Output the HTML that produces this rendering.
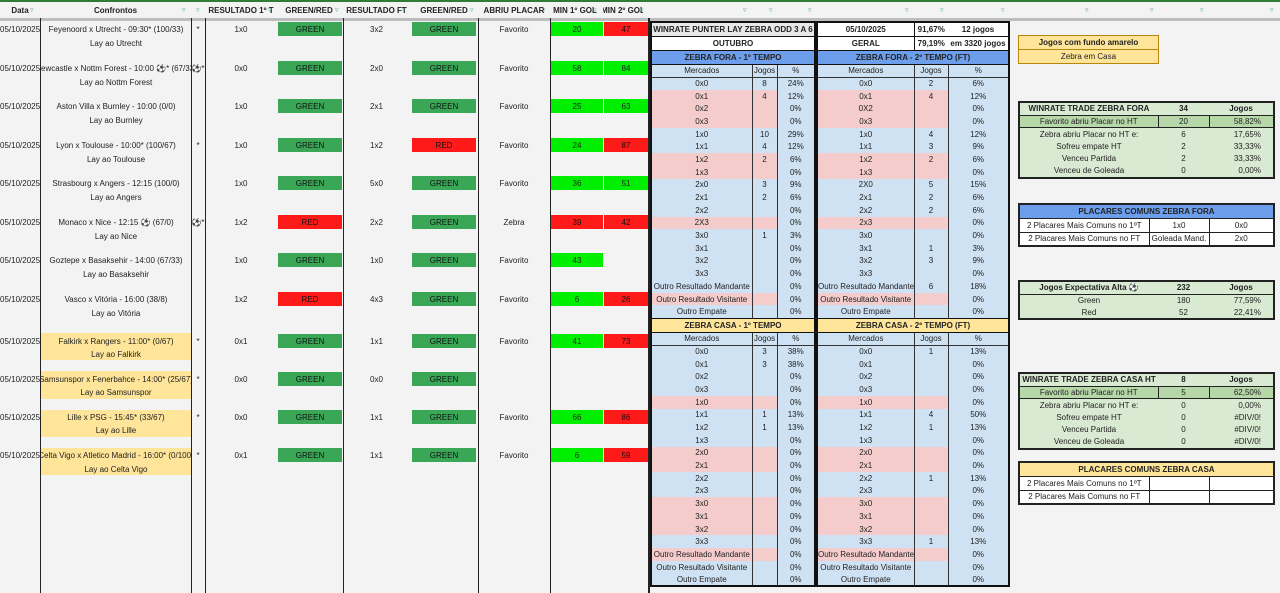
<!DOCTYPE html>
<html><head><meta charset="utf-8">
<style>
*{margin:0;padding:0;box-sizing:border-box}
body{width:1280px;height:593px;overflow:hidden;background:#f3f3f3;font:8px "Liberation Sans","DejaVu Sans",sans-serif;color:#222;position:relative}
.a{position:absolute}
.c{position:absolute;display:flex;justify-content:center;align-items:center;white-space:nowrap;overflow:hidden}
.v{position:absolute;top:18px;height:575px;width:1px;background:#222}
.g{background:#3aa757;color:#111}
.r{background:#ff1a1a;color:#111}
.lg{background:#00ee00}
.hd{position:absolute;top:3px;height:15px;font-weight:bold;display:flex;align-items:center;justify-content:center;white-space:nowrap;overflow:hidden;font-size:8px}
.f{position:absolute;top:6px;color:#5a9;font-size:7px}
.yb{background:#ffe599}
table{position:absolute;border-collapse:collapse;table-layout:fixed;font:8px "Liberation Sans",sans-serif;color:#222}
.t{border:2px solid #111}
.t td{padding:0;text-align:center;white-space:nowrap;overflow:hidden;background:#cfe2f3;border-left:1px solid #333;border-right:1px solid #333;line-height:11px}
.t tr{height:12.7px}
.t tr.p td:nth-child(-n+2){background:#f4cccc}
.t tr.h td{background:#6d9eeb;font-weight:bold;border:1px solid #111;height:14px}
.t tr.y td{background:#ffe599;font-weight:bold;border:1px solid #111;height:14px}
.t tr.m td{border-bottom:1px solid #333;height:13px}
.t tr.w td{background:#fff;font-weight:bold;border:1px solid #111;height:14px}
.t tr.w2 td{background:#e8e8e8}
.k{border:2px solid #222}
.k td{padding:0;text-align:center;white-space:nowrap;overflow:hidden;height:12.5px;line-height:11px;background:#d9ead3}
.k tr.hh td{font-weight:bold;border-bottom:1px solid #222;height:13px}
.k tr.dd td{background:#b6d7a8;border:1px solid #222}
.q{border:2px solid #222}
.q td{padding:0;text-align:center;white-space:nowrap;overflow:hidden;height:14px;background:#fff;border:1px solid #222}
.q tr.hh td{background:#6d9eeb;font-weight:bold}
.q tr.hy td{background:#ffe599;font-weight:bold}
</style></head><body>
<div class="a" style="left:0;top:0;width:1280px;height:2px;background:#2e7d32"></div>
<div class="a" style="left:0;top:2px;width:1280px;height:16px;background:#f3f3f3"></div>
<div class="a" style="left:0;top:18px;width:1280px;height:3px;background:#bdbdbd"></div>
<div class="hd" style="left:0;width:40px">Data</div><span class="f" style="left:30px">▿</span>
<div class="hd" style="left:40px;width:151px">Confrontos</div><span class="f" style="left:182px">▿</span>
<span class="f" style="left:196px">▿</span>
<div class="hd" style="left:205px;width:72px">RESULTADO 1º T</div><span class="f" style="left:268px">▿</span>
<div class="hd" style="left:275px;width:68px">GREEN/RED</div><span class="f" style="left:335px">▿</span>
<div class="hd" style="left:343px;width:67px">RESULTADO FT</div><span class="f" style="left:402px">▿</span>
<div class="hd" style="left:410px;width:68px">GREEN/RED</div><span class="f" style="left:470px">▿</span>
<div class="hd" style="left:478px;width:72px">ABRIU PLACAR</div><span class="f" style="left:542px">▿</span>
<div class="hd" style="left:550px;width:50px">MIN 1º GOL</div><span class="f" style="left:593px">▿</span>
<div class="hd" style="left:603px;width:40px">MIN 2º GOL</div><span class="f" style="left:640px">▿</span>
<span class="f" style="left:743px">▿</span><span class="f" style="left:769px">▿</span><span class="f" style="left:808px">▿</span>
<span class="f" style="left:905px">▿</span><span class="f" style="left:940px">▿</span><span class="f" style="left:1001px">▿</span>
<span class="f" style="left:1085px">▿</span><span class="f" style="left:1150px">▿</span><span class="f" style="left:1200px">▿</span><span class="f" style="left:1270px">▿</span>

<div class="a yb" style="left:41px;top:333px;width:150px;height:27px"></div>
<div class="a yb" style="left:41px;top:371px;width:150px;height:28px"></div>
<div class="a yb" style="left:41px;top:410px;width:150px;height:27px"></div>
<div class="a yb" style="left:41px;top:448px;width:150px;height:27px"></div>

<div class="c" style="left:0;top:22px;width:40px;height:14px;justify-content:flex-start">05/10/2025</div>
<div class="c" style="left:41px;top:22px;width:150px;height:14px">Feyenoord x Utrecht - 09:30* (100/33)</div>
<div class="c" style="left:41px;top:36px;width:150px;height:14px">Lay ao Utrecht</div>
<div class="c" style="left:191px;top:22px;width:14px;height:14px">*</div>
<div class="c" style="left:205px;top:22px;width:72px;height:14px">1x0</div>
<div class="c g" style="left:278px;top:22px;width:64px;height:14px">GREEN</div>
<div class="c" style="left:343px;top:22px;width:67px;height:14px">3x2</div>
<div class="c g" style="left:412px;top:22px;width:64px;height:14px">GREEN</div>
<div class="c" style="left:478px;top:22px;width:72px;height:14px">Favorito</div>
<div class="c lg" style="left:551px;top:22px;width:52px;height:14px">20</div>
<div class="c r" style="left:604px;top:22px;width:44px;height:14px">47</div>

<div class="c" style="left:0;top:61px;width:40px;height:14px;justify-content:flex-start">05/10/2025</div>
<div class="c" style="left:41px;top:61px;width:150px;height:14px">Newcastle x Nottm Forest - 10:00 ⚽* (67/33)</div>
<div class="c" style="left:41px;top:75px;width:150px;height:14px">Lay ao Nottm Forest</div>
<div class="c" style="left:191px;top:61px;width:14px;height:14px">⚽*</div>
<div class="c" style="left:205px;top:61px;width:72px;height:14px">0x0</div>
<div class="c g" style="left:278px;top:61px;width:64px;height:14px">GREEN</div>
<div class="c" style="left:343px;top:61px;width:67px;height:14px">2x0</div>
<div class="c g" style="left:412px;top:61px;width:64px;height:14px">GREEN</div>
<div class="c" style="left:478px;top:61px;width:72px;height:14px">Favorito</div>
<div class="c lg" style="left:551px;top:61px;width:52px;height:14px">58</div>
<div class="c lg" style="left:604px;top:61px;width:44px;height:14px">84</div>

<div class="c" style="left:0;top:99px;width:40px;height:14px;justify-content:flex-start">05/10/2025</div>
<div class="c" style="left:41px;top:99px;width:150px;height:14px">Aston Villa x Burnley - 10:00 (0/0)</div>
<div class="c" style="left:41px;top:113px;width:150px;height:14px">Lay ao Burnley</div>
<div class="c" style="left:205px;top:99px;width:72px;height:14px">1x0</div>
<div class="c g" style="left:278px;top:99px;width:64px;height:14px">GREEN</div>
<div class="c" style="left:343px;top:99px;width:67px;height:14px">2x1</div>
<div class="c g" style="left:412px;top:99px;width:64px;height:14px">GREEN</div>
<div class="c" style="left:478px;top:99px;width:72px;height:14px">Favorito</div>
<div class="c lg" style="left:551px;top:99px;width:52px;height:14px">25</div>
<div class="c lg" style="left:604px;top:99px;width:44px;height:14px">63</div>

<div class="c" style="left:0;top:138px;width:40px;height:14px;justify-content:flex-start">05/10/2025</div>
<div class="c" style="left:41px;top:138px;width:150px;height:14px">Lyon x Toulouse - 10:00* (100/67)</div>
<div class="c" style="left:41px;top:152px;width:150px;height:14px">Lay ao Toulouse</div>
<div class="c" style="left:191px;top:138px;width:14px;height:14px">*</div>
<div class="c" style="left:205px;top:138px;width:72px;height:14px">1x0</div>
<div class="c g" style="left:278px;top:138px;width:64px;height:14px">GREEN</div>
<div class="c" style="left:343px;top:138px;width:67px;height:14px">1x2</div>
<div class="c r" style="left:412px;top:138px;width:64px;height:14px">RED</div>
<div class="c" style="left:478px;top:138px;width:72px;height:14px">Favorito</div>
<div class="c lg" style="left:551px;top:138px;width:52px;height:14px">24</div>
<div class="c r" style="left:604px;top:138px;width:44px;height:14px">87</div>

<div class="c" style="left:0;top:176px;width:40px;height:14px;justify-content:flex-start">05/10/2025</div>
<div class="c" style="left:41px;top:176px;width:150px;height:14px">Strasbourg x Angers - 12:15 (100/0)</div>
<div class="c" style="left:41px;top:190px;width:150px;height:14px">Lay ao Angers</div>
<div class="c" style="left:205px;top:176px;width:72px;height:14px">1x0</div>
<div class="c g" style="left:278px;top:176px;width:64px;height:14px">GREEN</div>
<div class="c" style="left:343px;top:176px;width:67px;height:14px">5x0</div>
<div class="c g" style="left:412px;top:176px;width:64px;height:14px">GREEN</div>
<div class="c" style="left:478px;top:176px;width:72px;height:14px">Favorito</div>
<div class="c lg" style="left:551px;top:176px;width:52px;height:14px">36</div>
<div class="c lg" style="left:604px;top:176px;width:44px;height:14px">51</div>

<div class="c" style="left:0;top:215px;width:40px;height:14px;justify-content:flex-start">05/10/2025</div>
<div class="c" style="left:41px;top:215px;width:150px;height:14px">Monaco x Nice - 12:15 ⚽ (67/0)</div>
<div class="c" style="left:41px;top:229px;width:150px;height:14px">Lay ao Nice</div>
<div class="c" style="left:191px;top:215px;width:14px;height:14px">⚽*</div>
<div class="c" style="left:205px;top:215px;width:72px;height:14px">1x2</div>
<div class="c r" style="left:278px;top:215px;width:64px;height:14px">RED</div>
<div class="c" style="left:343px;top:215px;width:67px;height:14px">2x2</div>
<div class="c g" style="left:412px;top:215px;width:64px;height:14px">GREEN</div>
<div class="c" style="left:478px;top:215px;width:72px;height:14px">Zebra</div>
<div class="c r" style="left:551px;top:215px;width:52px;height:14px">39</div>
<div class="c r" style="left:604px;top:215px;width:44px;height:14px">42</div>

<div class="c" style="left:0;top:253px;width:40px;height:14px;justify-content:flex-start">05/10/2025</div>
<div class="c" style="left:41px;top:253px;width:150px;height:14px">Goztepe x Basaksehir - 14:00 (67/33)</div>
<div class="c" style="left:41px;top:267px;width:150px;height:14px">Lay ao Basaksehir</div>
<div class="c" style="left:205px;top:253px;width:72px;height:14px">1x0</div>
<div class="c g" style="left:278px;top:253px;width:64px;height:14px">GREEN</div>
<div class="c" style="left:343px;top:253px;width:67px;height:14px">1x0</div>
<div class="c g" style="left:412px;top:253px;width:64px;height:14px">GREEN</div>
<div class="c" style="left:478px;top:253px;width:72px;height:14px">Favorito</div>
<div class="c lg" style="left:551px;top:253px;width:52px;height:14px">43</div>

<div class="c" style="left:0;top:292px;width:40px;height:14px;justify-content:flex-start">05/10/2025</div>
<div class="c" style="left:41px;top:292px;width:150px;height:14px">Vasco x Vitória - 16:00 (38/8)</div>
<div class="c" style="left:41px;top:306px;width:150px;height:14px">Lay ao Vitória</div>
<div class="c" style="left:205px;top:292px;width:72px;height:14px">1x2</div>
<div class="c r" style="left:278px;top:292px;width:64px;height:14px">RED</div>
<div class="c" style="left:343px;top:292px;width:67px;height:14px">4x3</div>
<div class="c g" style="left:412px;top:292px;width:64px;height:14px">GREEN</div>
<div class="c" style="left:478px;top:292px;width:72px;height:14px">Favorito</div>
<div class="c lg" style="left:551px;top:292px;width:52px;height:14px">6</div>
<div class="c r" style="left:604px;top:292px;width:44px;height:14px">26</div>

<div class="c" style="left:0;top:334px;width:40px;height:14px;justify-content:flex-start">05/10/2025</div>
<div class="c" style="left:41px;top:334px;width:150px;height:14px">Falkirk x Rangers - 11:00* (0/67)</div>
<div class="c" style="left:41px;top:347px;width:150px;height:14px">Lay ao Falkirk</div>
<div class="c" style="left:191px;top:334px;width:14px;height:14px">*</div>
<div class="c" style="left:205px;top:334px;width:72px;height:14px">0x1</div>
<div class="c g" style="left:278px;top:334px;width:64px;height:14px">GREEN</div>
<div class="c" style="left:343px;top:334px;width:67px;height:14px">1x1</div>
<div class="c g" style="left:412px;top:334px;width:64px;height:14px">GREEN</div>
<div class="c" style="left:478px;top:334px;width:72px;height:14px">Favorito</div>
<div class="c lg" style="left:551px;top:334px;width:52px;height:14px">41</div>
<div class="c r" style="left:604px;top:334px;width:44px;height:14px">73</div>

<div class="c" style="left:0;top:372px;width:40px;height:14px;justify-content:flex-start">05/10/2025</div>
<div class="c" style="left:41px;top:372px;width:150px;height:14px">Samsunspor x Fenerbahce - 14:00* (25/67)</div>
<div class="c" style="left:41px;top:385px;width:150px;height:14px">Lay ao Samsunspor</div>
<div class="c" style="left:191px;top:372px;width:14px;height:14px">*</div>
<div class="c" style="left:205px;top:372px;width:72px;height:14px">0x0</div>
<div class="c g" style="left:278px;top:372px;width:64px;height:14px">GREEN</div>
<div class="c" style="left:343px;top:372px;width:67px;height:14px">0x0</div>
<div class="c g" style="left:412px;top:372px;width:64px;height:14px">GREEN</div>

<div class="c" style="left:0;top:410px;width:40px;height:14px;justify-content:flex-start">05/10/2025</div>
<div class="c" style="left:41px;top:410px;width:150px;height:14px">Lille x PSG - 15:45* (33/67)</div>
<div class="c" style="left:41px;top:423px;width:150px;height:14px">Lay ao Lille</div>
<div class="c" style="left:191px;top:410px;width:14px;height:14px">*</div>
<div class="c" style="left:205px;top:410px;width:72px;height:14px">0x0</div>
<div class="c g" style="left:278px;top:410px;width:64px;height:14px">GREEN</div>
<div class="c" style="left:343px;top:410px;width:67px;height:14px">1x1</div>
<div class="c g" style="left:412px;top:410px;width:64px;height:14px">GREEN</div>
<div class="c" style="left:478px;top:410px;width:72px;height:14px">Favorito</div>
<div class="c lg" style="left:551px;top:410px;width:52px;height:14px">66</div>
<div class="c r" style="left:604px;top:410px;width:44px;height:14px">86</div>

<div class="c" style="left:0;top:448px;width:40px;height:14px;justify-content:flex-start">05/10/2025</div>
<div class="c" style="left:41px;top:448px;width:150px;height:14px">Celta Vigo x Atletico Madrid - 16:00* (0/100)</div>
<div class="c" style="left:41px;top:462px;width:150px;height:14px">Lay ao Celta Vigo</div>
<div class="c" style="left:191px;top:448px;width:14px;height:14px">*</div>
<div class="c" style="left:205px;top:448px;width:72px;height:14px">0x1</div>
<div class="c g" style="left:278px;top:448px;width:64px;height:14px">GREEN</div>
<div class="c" style="left:343px;top:448px;width:67px;height:14px">1x1</div>
<div class="c g" style="left:412px;top:448px;width:64px;height:14px">GREEN</div>
<div class="c" style="left:478px;top:448px;width:72px;height:14px">Favorito</div>
<div class="c lg" style="left:551px;top:448px;width:52px;height:14px">6</div>
<div class="c r" style="left:604px;top:448px;width:44px;height:14px">59</div>

<div class="v" style="left:40px"></div>
<div class="v" style="left:191px"></div>
<div class="v" style="left:205px"></div>
<div class="v" style="left:343px"></div>
<div class="v" style="left:478px"></div>
<div class="v" style="left:550px"></div>
<div class="v" style="left:648px;width:2px"></div>

<table class="t" style="left:650px;top:21px;width:166px">
<colgroup><col style="width:101px"><col style="width:25px"><col></colgroup>
<tr class="w w2"><td colspan="3">WINRATE PUNTER LAY ZEBRA ODD 3 A 6</td></tr>
<tr class="w"><td colspan="3">OUTUBRO</td></tr>
<tr class="h"><td colspan="3">ZEBRA FORA - 1º TEMPO</td></tr>
<tr class="m"><td>Mercados</td><td>Jogos</td><td>%</td></tr>
<tr><td>0x0</td><td>8</td><td>24%</td></tr>
<tr class="p"><td>0x1</td><td>4</td><td>12%</td></tr>
<tr class="p"><td>0x2</td><td></td><td>0%</td></tr>
<tr class="p"><td>0x3</td><td></td><td>0%</td></tr>
<tr><td>1x0</td><td>10</td><td>29%</td></tr>
<tr><td>1x1</td><td>4</td><td>12%</td></tr>
<tr class="p"><td>1x2</td><td>2</td><td>6%</td></tr>
<tr class="p"><td>1x3</td><td></td><td>0%</td></tr>
<tr><td>2x0</td><td>3</td><td>9%</td></tr>
<tr><td>2x1</td><td>2</td><td>6%</td></tr>
<tr><td>2x2</td><td></td><td>0%</td></tr>
<tr class="p"><td>2X3</td><td></td><td>0%</td></tr>
<tr><td>3x0</td><td>1</td><td>3%</td></tr>
<tr><td>3x1</td><td></td><td>0%</td></tr>
<tr><td>3x2</td><td></td><td>0%</td></tr>
<tr><td>3x3</td><td></td><td>0%</td></tr>
<tr><td>Outro Resultado Mandante</td><td></td><td>0%</td></tr>
<tr class="p"><td>Outro Resultado Visitante</td><td></td><td>0%</td></tr>
<tr><td>Outro Empate</td><td></td><td>0%</td></tr>
<tr class="y"><td colspan="3">ZEBRA CASA - 1º TEMPO</td></tr>
<tr class="m"><td>Mercados</td><td>Jogos</td><td>%</td></tr>
<tr><td>0x0</td><td>3</td><td>38%</td></tr>
<tr><td>0x1</td><td>3</td><td>38%</td></tr>
<tr><td>0x2</td><td></td><td>0%</td></tr>
<tr><td>0x3</td><td></td><td>0%</td></tr>
<tr class="p"><td>1x0</td><td></td><td>0%</td></tr>
<tr><td>1x1</td><td>1</td><td>13%</td></tr>
<tr><td>1x2</td><td>1</td><td>13%</td></tr>
<tr><td>1x3</td><td></td><td>0%</td></tr>
<tr class="p"><td>2x0</td><td></td><td>0%</td></tr>
<tr class="p"><td>2x1</td><td></td><td>0%</td></tr>
<tr><td>2x2</td><td></td><td>0%</td></tr>
<tr><td>2x3</td><td></td><td>0%</td></tr>
<tr class="p"><td>3x0</td><td></td><td>0%</td></tr>
<tr class="p"><td>3x1</td><td></td><td>0%</td></tr>
<tr class="p"><td>3x2</td><td></td><td>0%</td></tr>
<tr><td>3x3</td><td></td><td>0%</td></tr>
<tr class="p"><td>Outro Resultado Mandante</td><td></td><td>0%</td></tr>
<tr><td>Outro Resultado Visitante</td><td></td><td>0%</td></tr>
<tr><td>Outro Empate</td><td></td><td>0%</td></tr>
</table>

<table class="t" style="left:816px;top:21px;width:194px">
<colgroup><col style="width:97px"><col style="width:34px"><col></colgroup>
<tr class="w"><td>05/10/2025</td><td style="border-right:none">91,67%</td><td style="border-left:none">12 jogos</td></tr>
<tr class="w"><td>GERAL</td><td style="border-right:none">79,19%</td><td style="border-left:none">em 3320 jogos</td></tr>
<tr class="h"><td colspan="3">ZEBRA FORA - 2º TEMPO (FT)</td></tr>
<tr class="m"><td>Mercados</td><td>Jogos</td><td>%</td></tr>
<tr><td>0x0</td><td>2</td><td>6%</td></tr>
<tr class="p"><td>0x1</td><td>4</td><td>12%</td></tr>
<tr class="p"><td>0X2</td><td></td><td>0%</td></tr>
<tr class="p"><td>0x3</td><td></td><td>0%</td></tr>
<tr><td>1x0</td><td>4</td><td>12%</td></tr>
<tr><td>1x1</td><td>3</td><td>9%</td></tr>
<tr class="p"><td>1x2</td><td>2</td><td>6%</td></tr>
<tr class="p"><td>1x3</td><td></td><td>0%</td></tr>
<tr><td>2X0</td><td>5</td><td>15%</td></tr>
<tr><td>2x1</td><td>2</td><td>6%</td></tr>
<tr><td>2x2</td><td>2</td><td>6%</td></tr>
<tr class="p"><td>2x3</td><td></td><td>0%</td></tr>
<tr><td>3x0</td><td></td><td>0%</td></tr>
<tr><td>3x1</td><td>1</td><td>3%</td></tr>
<tr><td>3x2</td><td>3</td><td>9%</td></tr>
<tr><td>3x3</td><td></td><td>0%</td></tr>
<tr><td>Outro Resultado Mandante</td><td>6</td><td>18%</td></tr>
<tr class="p"><td>Outro Resultado Visitante</td><td></td><td>0%</td></tr>
<tr><td>Outro Empate</td><td></td><td>0%</td></tr>
<tr class="y"><td colspan="3">ZEBRA CASA - 2º TEMPO (FT)</td></tr>
<tr class="m"><td>Mercados</td><td>Jogos</td><td>%</td></tr>
<tr><td>0x0</td><td>1</td><td>13%</td></tr>
<tr><td>0x1</td><td></td><td>0%</td></tr>
<tr><td>0x2</td><td></td><td>0%</td></tr>
<tr><td>0x3</td><td></td><td>0%</td></tr>
<tr class="p"><td>1x0</td><td></td><td>0%</td></tr>
<tr><td>1x1</td><td>4</td><td>50%</td></tr>
<tr><td>1x2</td><td>1</td><td>13%</td></tr>
<tr><td>1x3</td><td></td><td>0%</td></tr>
<tr class="p"><td>2x0</td><td></td><td>0%</td></tr>
<tr class="p"><td>2x1</td><td></td><td>0%</td></tr>
<tr><td>2x2</td><td>1</td><td>13%</td></tr>
<tr><td>2x3</td><td></td><td>0%</td></tr>
<tr class="p"><td>3x0</td><td></td><td>0%</td></tr>
<tr class="p"><td>3x1</td><td></td><td>0%</td></tr>
<tr class="p"><td>3x2</td><td></td><td>0%</td></tr>
<tr><td>3x3</td><td>1</td><td>13%</td></tr>
<tr class="p"><td>Outro Resultado Mandante</td><td></td><td>0%</td></tr>
<tr><td>Outro Resultado Visitante</td><td></td><td>0%</td></tr>
<tr><td>Outro Empate</td><td></td><td>0%</td></tr>
</table>

<table style="left:1018px;top:35px;width:141px;border:1px solid #b8860b">
<tr><td style="background:#ffe599;height:14px;text-align:center;font-weight:bold;border-bottom:1px solid #b8860b">Jogos com fundo amarelo</td></tr>
<tr><td style="background:#ffe599;height:14px;text-align:center">Zebra em Casa</td></tr>
</table>

<table class="k" style="left:1018px;top:101px;width:257px">
<colgroup><col style="width:139px"><col style="width:51px"><col></colgroup>
<tr class="hh"><td>WINRATE TRADE ZEBRA FORA</td><td>34</td><td>Jogos</td></tr>
<tr class="dd"><td>Favorito abriu Placar no HT</td><td>20</td><td style="text-align:right;padding-right:12px">58,82%</td></tr>
<tr><td>Zebra abriu Placar no HT e:</td><td>6</td><td style="text-align:right;padding-right:12px">17,65%</td></tr>
<tr><td>Sofreu empate HT</td><td>2</td><td style="text-align:right;padding-right:12px">33,33%</td></tr>
<tr><td>Venceu Partida</td><td>2</td><td style="text-align:right;padding-right:12px">33,33%</td></tr>
<tr><td>Venceu de Goleada</td><td>0</td><td style="text-align:right;padding-right:12px">0,00%</td></tr>
</table>

<table class="q" style="left:1018px;top:203px;width:257px">
<colgroup><col style="width:130px"><col style="width:60px"><col></colgroup>
<tr class="hh"><td colspan="3">PLACARES COMUNS ZEBRA FORA</td></tr>
<tr><td>2 Placares Mais Comuns no 1ºT</td><td>1x0</td><td>0x0</td></tr>
<tr><td>2 Placares Mais Comuns no FT</td><td>Goleada Mand.</td><td>2x0</td></tr>
</table>

<table class="k" style="left:1018px;top:280px;width:257px">
<colgroup><col style="width:139px"><col style="width:51px"><col></colgroup>
<tr class="hh"><td>Jogos Expectativa Alta ⚽</td><td>232</td><td>Jogos</td></tr>
<tr><td>Green</td><td>180</td><td style="text-align:right;padding-right:12px">77,59%</td></tr>
<tr><td>Red</td><td>52</td><td style="text-align:right;padding-right:12px">22,41%</td></tr>
</table>

<table class="k" style="left:1018px;top:372px;width:257px">
<colgroup><col style="width:139px"><col style="width:51px"><col></colgroup>
<tr class="hh"><td>WINRATE TRADE ZEBRA CASA HT</td><td>8</td><td>Jogos</td></tr>
<tr class="dd"><td>Favorito abriu Placar no HT</td><td>5</td><td style="text-align:right;padding-right:12px">62,50%</td></tr>
<tr><td>Zebra abriu Placar no HT e:</td><td>0</td><td style="text-align:right;padding-right:12px">0,00%</td></tr>
<tr><td>Sofreu empate HT</td><td>0</td><td style="text-align:right;padding-right:12px">#DIV/0!</td></tr>
<tr><td>Venceu Partida</td><td>0</td><td style="text-align:right;padding-right:12px">#DIV/0!</td></tr>
<tr><td>Venceu de Goleada</td><td>0</td><td style="text-align:right;padding-right:12px">#DIV/0!</td></tr>
</table>

<table class="q" style="left:1018px;top:461px;width:257px">
<colgroup><col style="width:130px"><col style="width:60px"><col></colgroup>
<tr class="hy"><td colspan="3">PLACARES COMUNS ZEBRA CASA</td></tr>
<tr><td>2 Placares Mais Comuns no 1ºT</td><td></td><td></td></tr>
<tr><td>2 Placares Mais Comuns no FT</td><td></td><td></td></tr>
</table>
</body></html>
